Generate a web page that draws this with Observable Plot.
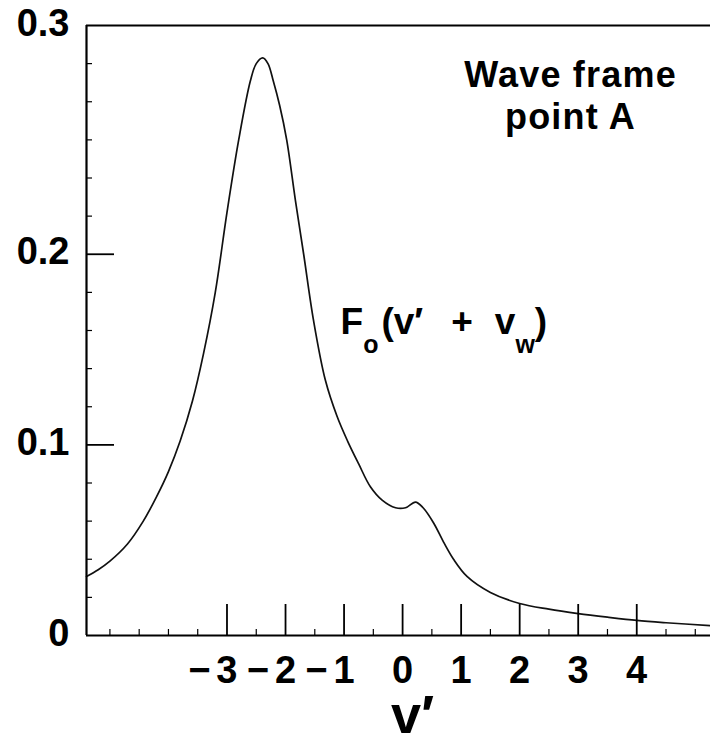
<!DOCTYPE html>
<html><head><meta charset="utf-8">
<script src="https://cdn.jsdelivr.net/npm/d3@7"></script>
<script src="https://cdn.jsdelivr.net/npm/@observablehq/plot@0.6"></script>
<style>body{margin:0;background:#fff}</style>
</head><body><div id="chart"></div>
<script>
// ---- data ----
const vPrime = [-5.40, -5.2, -5.0, -4.7, -4.43, -4.2, -4.0, -3.8, -3.59, -3.4, -3.2, -3.0, -2.8, -2.6, -2.5, -2.39, -2.3, -2.21, -2.1, -1.98, -1.83, -1.69, -1.52, -1.32, -1.12, -0.94, -0.75, -0.55, -0.35, -0.12, 0.05, 0.22, 0.35, 0.53, 0.7, 0.87, 1.1, 1.5, 2.0, 2.5, 3.0, 3.5, 4.0, 4.5, 5.26];
const F0 = [0.031, 0.0345, 0.039, 0.048, 0.060, 0.073, 0.086, 0.102, 0.123, 0.148, 0.180, 0.222, 0.260, 0.291, 0.300, 0.303, 0.300, 0.291, 0.278, 0.260, 0.228, 0.200, 0.165, 0.134, 0.115, 0.102, 0.090, 0.078, 0.071, 0.067, 0.067, 0.070, 0.067, 0.059, 0.049, 0.040, 0.031, 0.0226, 0.0168, 0.0138, 0.0115, 0.0096, 0.0079, 0.0067, 0.0052];

const xDomain = [-5.40, 5.26];
const yDomain = [0, 0.32];
const xMajorTicks = [-3, -2, -1, 0, 1, 2, 3, 4];
const xMajorLabels = ["−3", "−2", "−1", "0", "1", "2", "3", "4"];
const xMinorTicks = [-5, -4.5, -4, -3.5, -2.5, -1.5, -0.5, 0.5, 1.5, 2.5, 3.5, 4.5, 5];
const yMajorTicks = [0.1, 0.2];
const yLabelValues = [0, 0.1, 0.2, 0.32];
const yLabels = ["0", "0.1", "0.2", "0.3"];
const yMinorTicks = [0.02, 0.04, 0.06, 0.08, 0.12, 0.14, 0.16, 0.18, 0.22, 0.24, 0.26, 0.28, 0.30];
const annotationText = ["Wave frame\npoint A"];
const curveLabel = "F_o(v′ + v_w)";
const curveLabelPos = [{x: -1.06, y: 0.158}];
const axisLabel = ["v′"];

// ---- layout ----
const W = 710, H = 738;
const mL = 86, mT = 25, mR = 0, mB = 103;
const plotW = W - mL - mR, plotH = H - mT - mB;

const data = vPrime.map((v, i) => ({v, F: F0[i]}));
const font = "'Liberation Sans', Arial, Helvetica, sans-serif";

const chart = Plot.plot({
  width: W, height: H,
  marginLeft: mL, marginTop: mT, marginRight: mR, marginBottom: mB,
  x: {domain: xDomain, axis: null},
  y: {domain: yDomain, axis: null},
  style: {fontFamily: font, background: "#fff", color: "#000", overflow: "visible"},
  marks: [
    Plot.line(data, {x: "v", y: "F", curve: "catmull-rom", stroke: "#111", strokeWidth: 1.7}),
    Plot.ruleY([yDomain[0], yDomain[1]], {stroke: "#000", strokeWidth: 2.2}),
    Plot.ruleX([xDomain[0]], {stroke: "#000", strokeWidth: 2.2}),
    Plot.tickY(yMajorTicks, {y: d => d, insetRight: plotW - 28, stroke: "#000", strokeWidth: 1.8}),
    Plot.tickY(yMinorTicks, {y: d => d, insetRight: plotW - 6, stroke: "#000", strokeWidth: 1.2}),
    Plot.tickX(xMajorTicks, {x: d => d, insetTop: plotH - 31, stroke: "#000", strokeWidth: 1.8}),
    Plot.tickX(xMinorTicks, {x: d => d, insetTop: plotH - 6, stroke: "#000", strokeWidth: 1.2}),
    Plot.text(yLabelValues, {y: d => d, text: (d, i) => yLabels[i], frameAnchor: "left", textAnchor: "end", lineAnchor: "middle", dx: -17, dy: -2, fontSize: 38, fontWeight: "bold", fill: "#000"}),
    Plot.text(xMajorTicks, {x: d => d, text: (d, i) => xMajorLabels[i], frameAnchor: "bottom", textAnchor: "end", lineAnchor: "middle", dx: 10.5, dy: 35, fontSize: 38, fontWeight: "bold", fill: "#000"}),
    Plot.text(axisLabel, {x: () => 0, text: d => d, frameAnchor: "bottom", textAnchor: "middle", lineAnchor: "bottom", dx: 10, dy: 97, fontSize: 54, fontWeight: "bold", fill: "#000"}),
    Plot.text(annotationText, {text: d => d, frameAnchor: "top-right", textAnchor: "middle", lineAnchor: "top", dx: -140, dy: 32, fontSize: 36, lineHeight: 1.167, fontWeight: "bold", fill: "#000"}),
    Plot.text(curveLabelPos, {x: "x", y: "y", text: () => curveLabel, textAnchor: "start", lineAnchor: "bottom", fontSize: 37, fontWeight: "bold", fill: "#000"})
  ]
});

document.getElementById("chart").appendChild(chart);

// letter spacing for the annotation, gap after minus signs, sub-scripts in the curve label
d3.select(chart).selectAll("text").each(function () {
  const t = this.textContent;
  if (t.startsWith("Wave")) this.style.letterSpacing = "1.2px";
  if (xMajorLabels.includes(t) && t.startsWith("−")) {
    const sel = d3.select(this);
    sel.text(null);
    sel.append("tspan").text("−");
    sel.append("tspan").attr("dx", 6).text(t.slice(1));
  }
  if (t === curveLabel) {
    const sel = d3.select(this);
    sel.text(null);
    const parts = [
      {s: "F"},
      {s: "o", dy: 19, fs: 25},
      {s: "(v′", dy: -19, dx: 3},
      {s: "+", dx: 28},
      {s: "v", dx: 22},
      {s: "w", dy: 19, fs: 25},
      {s: ")", dy: -19}
    ];
    for (const p of parts) {
      const ts = sel.append("tspan").text(p.s);
      if (p.dx) ts.attr("dx", p.dx);
      if (p.dy) ts.attr("dy", p.dy);
      if (p.fs) ts.attr("font-size", p.fs);
    }
  }
});
</script>
</body></html>
